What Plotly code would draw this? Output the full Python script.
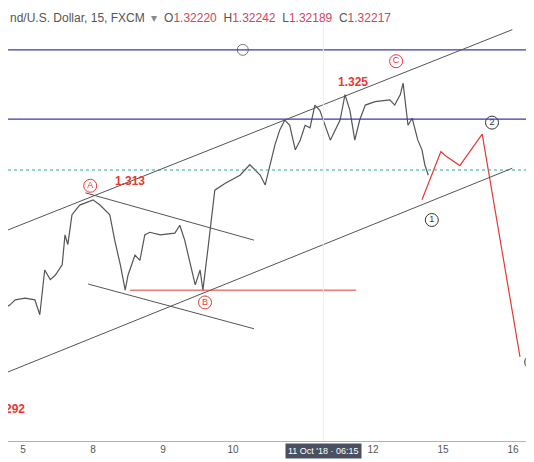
import plotly.graph_objects as go

# price path (x in trading-day index: 0=Oct 5, 1=Oct 8, ... 6=Oct 15, 7=Oct 16)
px_x = [-0.33,-0.19,-0.11,0.03,0.17,0.24,0.31,0.39,0.46,0.56,0.6,0.64,0.7,0.81,1.0,1.1,1.24,1.31,1.39,1.46,1.5,1.6,1.67,1.74,1.81,1.96,2.17,2.24,2.31,2.39,2.46,2.53,2.57,2.64,2.7,2.74,2.89,3.1,3.24,3.39,3.46,3.53,3.6,3.67,3.74,3.81,3.89,3.96,4.03,4.1,4.17,4.24,4.31,4.39,4.53,4.6,4.67,4.74,4.81,4.89,5.03,5.24,5.31,5.39,5.43,5.5,5.56,5.64,5.7,5.74,5.79]
px_y = [1.3062,1.3068,1.3074,1.3076,1.3074,1.3057,1.3108,1.3097,1.3102,1.3114,1.3148,1.3137,1.3171,1.3182,1.3188,1.3182,1.3171,1.3142,1.3114,1.3085,1.3102,1.3125,1.3119,1.3148,1.3151,1.3148,1.3150,1.3159,1.3142,1.3114,1.3091,1.3108,1.3085,1.3131,1.3176,1.3199,1.3207,1.3216,1.3228,1.3216,1.3205,1.3228,1.3251,1.3268,1.3279,1.3273,1.3245,1.3256,1.3273,1.3270,1.3296,1.3290,1.3273,1.3256,1.3279,1.3308,1.3290,1.3256,1.3279,1.3296,1.3300,1.3302,1.3296,1.3308,1.3321,1.3273,1.3281,1.3256,1.3245,1.3228,1.3216]
proj_x = [5.7,5.97,6.04,6.24,6.56,7.1]
proj_y = [1.3188,1.3243,1.3238,1.3227,1.3263,1.3009]
tick_vals = [0,1,2,3,5,6,7]
tick_text = ["5","8","9","10","12","15","16"]
current_price = 1.3222
upper_level = 1.3359
mid_level = 1.3280
b_level = 1.3085
labels = [("A",0.96,1.3204,"#e53935"),("B",2.6,1.3071,"#e53935"),("C",5.33,1.3346,"#e53935"),
          ("1",5.84,1.3165,"#333"),("2",6.7,1.3276,"#333")]

X0, X1 = -15/70, 511/70
Y0, Y1 = 1.29119, 1.340668

fig = go.Figure()
fig.add_trace(go.Scatter(x=px_x, y=px_y, mode="lines", line=dict(color="#555", width=1.2), hoverinfo="skip"))
fig.add_trace(go.Scatter(x=proj_x, y=proj_y, mode="lines", line=dict(color="#e53935", width=1.2), hoverinfo="skip"))

def seg(x0,y0,x1,y1,color,width=1,dash=None):
    fig.add_shape(type="line", x0=x0,y0=y0,x1=x1,y1=y1, line=dict(color=color,width=width,dash=dash))

seg(X0,upper_level,X1,upper_level,"#3a3aa8",1.2)
seg(X0,mid_level,X1,mid_level,"#3a3aa8",1.2)
seg(X0,current_price,X1,current_price,"#26a69a",1,"dot")
seg(-0.33,1.3150,6.99,1.3382,"#555")
seg(-0.33,1.2988,6.99,1.3224,"#555")
seg(0.89,1.3196,3.3,1.3142,"#555")
seg(0.93,1.3092,3.3,1.3041,"#555")
seg(1.53,b_level,4.76,b_level,"#e53935")
seg(4.29,Y0,4.29,Y1,"#eeeeee")
seg(X0,Y0,X1,Y0,"#999",1.5)

fig.add_trace(go.Scatter(x=[3.14], y=[upper_level], mode="markers",
    marker=dict(symbol="circle", size=11, color="white", line=dict(color="#777", width=1)), hoverinfo="skip"))
fig.add_trace(go.Scatter(x=[l[1] for l in labels], y=[l[2] for l in labels], mode="markers+text",
    text=[l[0] for l in labels], textposition="middle center",
    textfont=dict(size=9, color=[l[3] for l in labels], family="Arial"),
    marker=dict(symbol="circle-open", size=13, color=[l[3] for l in labels], line=dict(width=1)),
    hoverinfo="skip"))
fig.add_trace(go.Scatter(x=[7.26], y=[1.3003], mode="markers",
    marker=dict(symbol="circle-open", size=13, color="#333"), hoverinfo="skip"))

for t,x,y,xa in [("1.313",1.53,1.3209,"center"),("1.325",4.71,1.3322,"center"),("1.292",0.06,1.2949,"right")]:
    fig.add_annotation(x=x,y=y,text="<b>"+t+"</b>",showarrow=False,xanchor=xa,
                       font=dict(color="#e53935",size=12,family="Arial"))

fig.add_annotation(xref="paper",yref="paper",x=0,y=1,yshift=-10,xanchor="left",yanchor="middle",showarrow=False,
    text="nd/U.S. Dollar, 15, FXCM  <span style='color:#888'>▾</span>  O<span style='color:#d0455c'>1.32220</span>  H<span style='color:#d0455c'>1.32242</span>  L<span style='color:#d0455c'>1.32189</span>  C<span style='color:#d0455c'>1.32217</span>",
    font=dict(size=12,color="#555",family="Arial"))
fig.add_annotation(x=4.29,y=0,yref="paper",yanchor="top",yshift=-1,showarrow=False,
    text="11 Oct '18 · 06:15",bgcolor="#4a5060",font=dict(color="white",size=9,family="Arial"),borderpad=2)

fig.update_layout(width=526,height=454,margin=dict(l=0,r=0,t=0,b=20,autoexpand=False),showlegend=False,
    plot_bgcolor="white",paper_bgcolor="white",
    xaxis=dict(range=[X0,X1],tickvals=tick_vals,ticktext=tick_text,showgrid=False,zeroline=False,
               ticks="",tickfont=dict(size=10,color="#555",family="Arial")),
    yaxis=dict(range=[Y0,Y1],visible=False))
fig.write_html("out.html")
